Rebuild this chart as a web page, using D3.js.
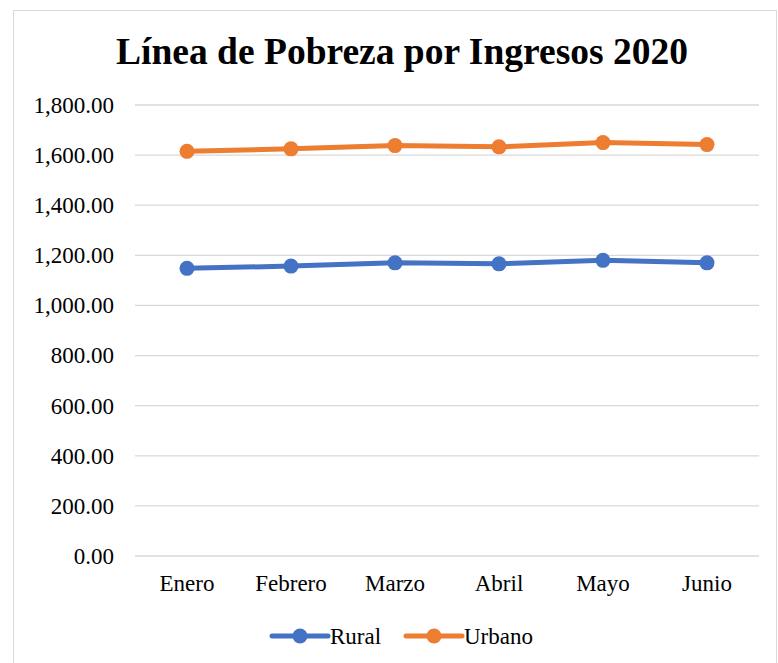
<!DOCTYPE html>
<html><head><meta charset="utf-8">
<script src="https://cdn.jsdelivr.net/npm/d3@7"></script>
<style>body{margin:0;background:#fff}svg{display:block}</style>
</head><body>
<svg id="c" width="778" height="663"></svg>
<script>
const categories = ["Enero","Febrero","Marzo","Abril","Mayo","Junio"];
const rural = [1148, 1157, 1170, 1166, 1180, 1170];
const urbano = [1615, 1625, 1638, 1633, 1650, 1642];
const yTicks = [0,200,400,600,800,1000,1200,1400,1600,1800];
const seriesNames = ["Rural","Urbano"];
const colors = ["#4472C4","#ED7D31"];

const svg = d3.select("#c");
const font = "'Liberation Serif','Times New Roman',serif";
svg.append("rect").attr("x",13.5).attr("y",10.5).attr("width",763).attr("height",660)
  .attr("fill","#fff").attr("stroke","#d9d9d9");

svg.append("text").attr("x",402).attr("y",64).attr("text-anchor","middle")
  .attr("font-family",font).attr("font-weight","bold").attr("font-size",37.5)
  .text("Línea de Pobreza por Ingresos 2020");

const x = d3.scaleBand().domain(categories).range([135,759]);
const y = d3.scaleLinear().domain([0,1800]).range([556,105]);

const grid = svg.append("g");
grid.selectAll("line").data(yTicks).join("line")
  .attr("x1",135).attr("x2",759).attr("y1",d=>y(d)).attr("y2",d=>y(d))
  .attr("stroke","#d9d9d9").attr("stroke-width",1.3);

const yAxis = svg.append("g").attr("transform","translate(117,0)")
  .call(d3.axisLeft(y).tickValues(yTicks).tickSize(0).tickFormat(d3.format(",.2f")));
yAxis.select(".domain").remove();
yAxis.selectAll("text").attr("font-family",font).attr("font-size",23).attr("fill","#000");

const xAxis = svg.append("g").attr("transform","translate(0,572)")
  .call(d3.axisBottom(x).tickSize(0));
xAxis.select(".domain").remove();
xAxis.selectAll("text").attr("font-family",font).attr("font-size",23).attr("fill","#000").attr("dy","0.71em");

const data = [rural, urbano];
const line = d3.line().x((d,i)=>x(categories[i])+x.bandwidth()/2).y(d=>y(d));
data.forEach((s,k)=>{
  svg.append("path").datum(s).attr("d",line).attr("fill","none")
    .attr("stroke",colors[k]).attr("stroke-width",5).attr("stroke-linejoin","round");
  svg.append("g").selectAll("circle").data(s).join("circle")
    .attr("cx",(d,i)=>x(categories[i])+x.bandwidth()/2).attr("cy",d=>y(d))
    .attr("r",7.5).attr("fill",colors[k]);
});

const legend = svg.append("g");
const lx = [272, 406];
seriesNames.forEach((n,k)=>{
  legend.append("line").attr("x1",lx[k]).attr("x2",lx[k]+56).attr("y1",636).attr("y2",636)
    .attr("stroke",colors[k]).attr("stroke-width",5).attr("stroke-linecap","round");
  legend.append("circle").attr("cx",lx[k]+28).attr("cy",636).attr("r",7.5).attr("fill",colors[k]);
  legend.append("text").attr("x",lx[k]+58).attr("y",644).attr("font-family",font)
    .attr("font-size",23).text(n);
});
</script>
</body></html>
